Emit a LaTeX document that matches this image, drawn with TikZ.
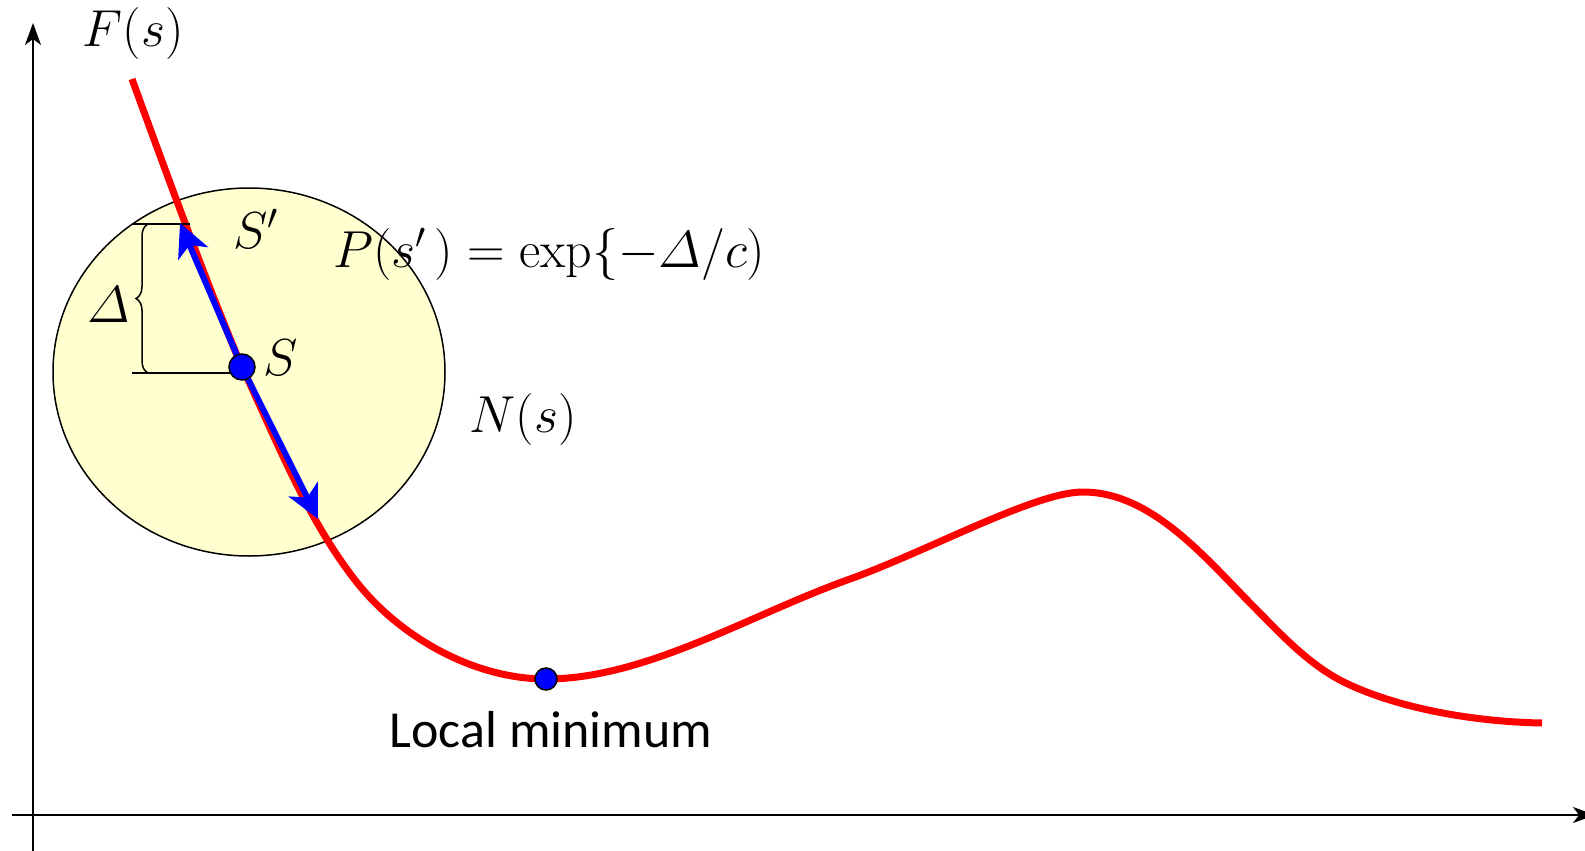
\RequirePackage{fix-cm}
\documentclass[tikz,border=0pt]{standalone}
\usepackage{amsmath}
\usepackage{fontspec}
\newfontfamily\calibri{Carlito}
\usetikzlibrary{arrows.meta,decorations.pathreplacing,shapes.geometric}
\definecolor{nsfill}{RGB}{255,255,208}
\begin{document}
\begin{tikzpicture}[x=1pt,y=-1pt,
  axis/.style={line width=1.5pt, -{Stealth[length=22pt,width=16pt,inset=6pt]}},
  curve/.style={red, line width=7pt},
  move/.style={blue, line width=6pt, -{Stealth[length=33pt,width=32pt,inset=9pt]}},
  thin line/.style={line width=1.5pt},
  dotnode/.style={circle, draw=black, line width=1.5pt, fill=blue, inner sep=0pt},
  mlabel/.style={font=\fontsize{52}{60}\selectfont, inner sep=0pt},
  tlabel/.style={font=\calibri\fontsize{52}{60}\selectfont, inner sep=0pt},
]
\useasboundingbox (0,0) rectangle (1585,851);
\clip (0,0) rectangle (1585,851);
% axes
\coordinate (yb) at (33,851);
\coordinate (yt) at (33,23);
\coordinate (xl) at (12,815);
\coordinate (xr) at (1595,815);
\draw[axis] (yb) -- (yt);
\draw[axis] (xl) -- (xr);
% neighbourhood
\node (N) [ellipse, draw=black, thin line, fill=nsfill, minimum width=392pt, minimum height=368pt, inner sep=0pt] at (249,372) {};
% curve
\coordinate (s) at (242,367);
\coordinate (c0) at (132,79);
\coordinate (q) at (355,580);
\coordinate (m) at (546,679);
\coordinate (b) at (850,579);
\coordinate (pk) at (1083,492);
\coordinate (i) at (1250,603);
\coordinate (k) at (1350,685);
\coordinate (e) at (1542,723);
\draw[curve] (c0) .. controls (172,189) and (212,297) .. (s)
  .. controls (276,439) and (306,517) .. (q)
  .. controls (399,637) and (474,679) .. (m)
  .. controls (646,679) and (749,615) .. (b)
  .. controls (928,551) and (1035,492) .. (pk)
  .. controls (1150,492) and (1203,555) .. (i)
  .. controls (1281,634) and (1310,667) .. (k)
  .. controls (1407,711) and (1482,722) .. (e);
% delta brace
\coordinate (tl) at (132,224);
\coordinate (tr) at (190,224);
\coordinate (bl) at (132,373);
\coordinate (br) at (236,373);
\coordinate (bb) at (148,373);
\coordinate (bt) at (148,224);
\draw[thin line] (tl) -- (tr);
\draw[thin line] (bl) -- (br);
\draw[thin line, decorate, decoration={brace, amplitude=12pt}] (bb) -- (bt);
% moves
\coordinate (up) at (180,223);
\coordinate (down) at (318,519);
\draw[move] (s) -- (up);
\draw[move] (s) -- (down);
\node (S) [dotnode, minimum size=26pt] at (s) {};
\node (M) [dotnode, minimum size=22pt] at (m) {};
% labels
\node[mlabel, anchor=base] (Flab) at (133,47) {$F(s)$};
\node[mlabel, anchor=base] (Splab) at (256,248) {$S'$};
\node[mlabel, anchor=base] (Slab) at (281,375) {$S$};
\node[mlabel, anchor=base west] (Plab) at (333,267) {$P(s'\,) = \exp\{-\varDelta/c)$};
\node[mlabel, anchor=base] (Nlab) at (523,432) {$N(s)$};
\node[mlabel, anchor=base] (Dlab) at (109,322) {$\varDelta$};
\node[tlabel, anchor=base] (Mlab) at (551,747) {Local minimum};
\end{tikzpicture}
\end{document}
